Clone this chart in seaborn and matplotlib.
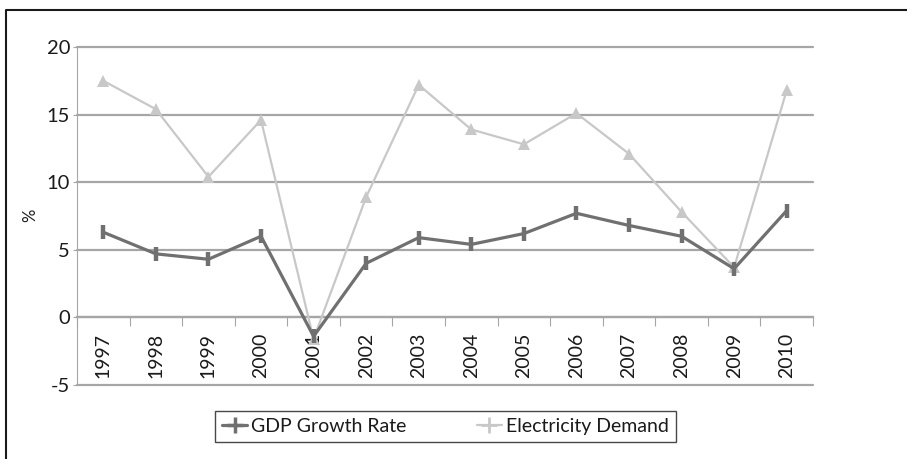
import matplotlib
matplotlib.use("Agg")
import matplotlib.pyplot as plt
from matplotlib.lines import Line2D
from matplotlib.ticker import FixedLocator
import pandas as pd
import seaborn as sns

years = ["1997", "1998", "1999", "2000", "2001", "2002", "2003",
         "2004", "2005", "2006", "2007", "2008", "2009", "2010"]
gdp_growth = [6.3, 4.7, 4.3, 6.0, -1.4, 4.0, 5.9, 5.4, 6.2, 7.7, 6.8, 6.0, 3.6, 7.9]
electricity_demand = [17.5, 15.4, 10.4, 14.6, -1.6, 8.9, 17.2, 13.9, 12.8, 15.1,
                      12.1, 7.8, 3.7, 16.8]
y_ticks = [-5, 0, 5, 10, 15, 20]
series_names = ["GDP Growth Rate", "Electricity Demand"]

gdp_color = "#707070"
elec_color = "#c8c8c8"
grid_color = "#a6a6a6"

sns.set_style("white")
plt.rcParams["font.family"] = ["Lato", "DejaVu Sans"]

df = pd.DataFrame({"year": years, "gdp": gdp_growth, "elec": electricity_demand})

fig = plt.figure(figsize=(9.07, 4.59), dpi=100)
ax = fig.add_axes([77 / 907, 1 - 385 / 459, (813 - 77) / 907, (385 - 47) / 459])

# horizontal gridlines, drawn unclipped so the edge lines keep full width
for v in y_ticks:
    ax.axhline(v, color=grid_color, lw=1.6, zorder=1, clip_on=False)

sns.lineplot(data=df, x="year", y="elec", ax=ax, color=elec_color, lw=1.6,
             marker="^", markersize=9, markeredgewidth=0,
             markerfacecolor=elec_color, zorder=3, sort=False)
sns.lineplot(data=df, x="year", y="gdp", ax=ax, color=gdp_color, lw=2.3,
             marker="|", markersize=10, markeredgewidth=3.2,
             markeredgecolor=gdp_color, zorder=4, sort=False)

ax.set_xlim(-0.5, len(years) - 0.5)
ax.set_ylim(y_ticks[0], y_ticks[-1])
ax.set_yticks(y_ticks)
ax.set_yticklabels([str(v) for v in y_ticks])

# category axis crosses at zero, with boundary tick marks hanging below it
for side in ["top", "right"]:
    ax.spines[side].set_visible(False)
ax.spines["bottom"].set_position(("data", 0))
ax.spines["bottom"].set_color(grid_color)
ax.spines["bottom"].set_linewidth(1.6)
ax.spines["left"].set_color(grid_color)
ax.spines["left"].set_linewidth(0.8)

ax.set_xticks(range(len(years)))
ax.set_xticklabels(years, rotation=90, va="top", ha="center")
ax.xaxis.set_minor_locator(FixedLocator([i - 0.5 for i in range(len(years) + 1)]))
ax.tick_params(axis="x", which="major", length=0, pad=11, labelsize=14,
               labelcolor="#1a1a1a")
ax.tick_params(axis="x", which="minor", length=6.5, width=0.8, color=grid_color,
               direction="out", bottom=True)
ax.tick_params(axis="y", length=3, width=0.8, color=grid_color, pad=2,
               labelsize=14.5, labelcolor="#1a1a1a", left=True)

ax.set_xlabel("")
ax.set_ylabel("%", fontsize=12, color="#1a1a1a")
ax.yaxis.set_label_coords((38 - 77) / 736, (385 - 215) / 338)

handles = [
    Line2D([], [], color=gdp_color, lw=2.3, marker="+", markersize=11,
           markeredgewidth=2.5),
    Line2D([], [], color=elec_color, lw=1.6, marker="+", markersize=11,
           markeredgewidth=2.0),
]
leg = fig.legend(handles, series_names, loc="center", ncol=2,
                 bbox_to_anchor=(445.5 / 907, 1 - 426.5 / 459),
                 frameon=True, fancybox=False, edgecolor="#1a1a1a",
                 fontsize=14, handlelength=1.3, handletextpad=0.2,
                 columnspacing=3.6, borderpad=0.35)
leg.get_frame().set_linewidth(1.0)
leg.get_frame().set_boxstyle("square", pad=0)
for t in leg.get_texts():
    t.set_color("#1a1a1a")

# outer chart frame (top and left edges)
fig.add_artist(Line2D([5.5 / 907, 5.5 / 907, 1.0], [0.0, 1 - 9.5 / 459, 1 - 9.5 / 459],
                      transform=fig.transFigure, color="#1a1a1a", lw=1.5))

fig.savefig("out.png", dpi=100)
